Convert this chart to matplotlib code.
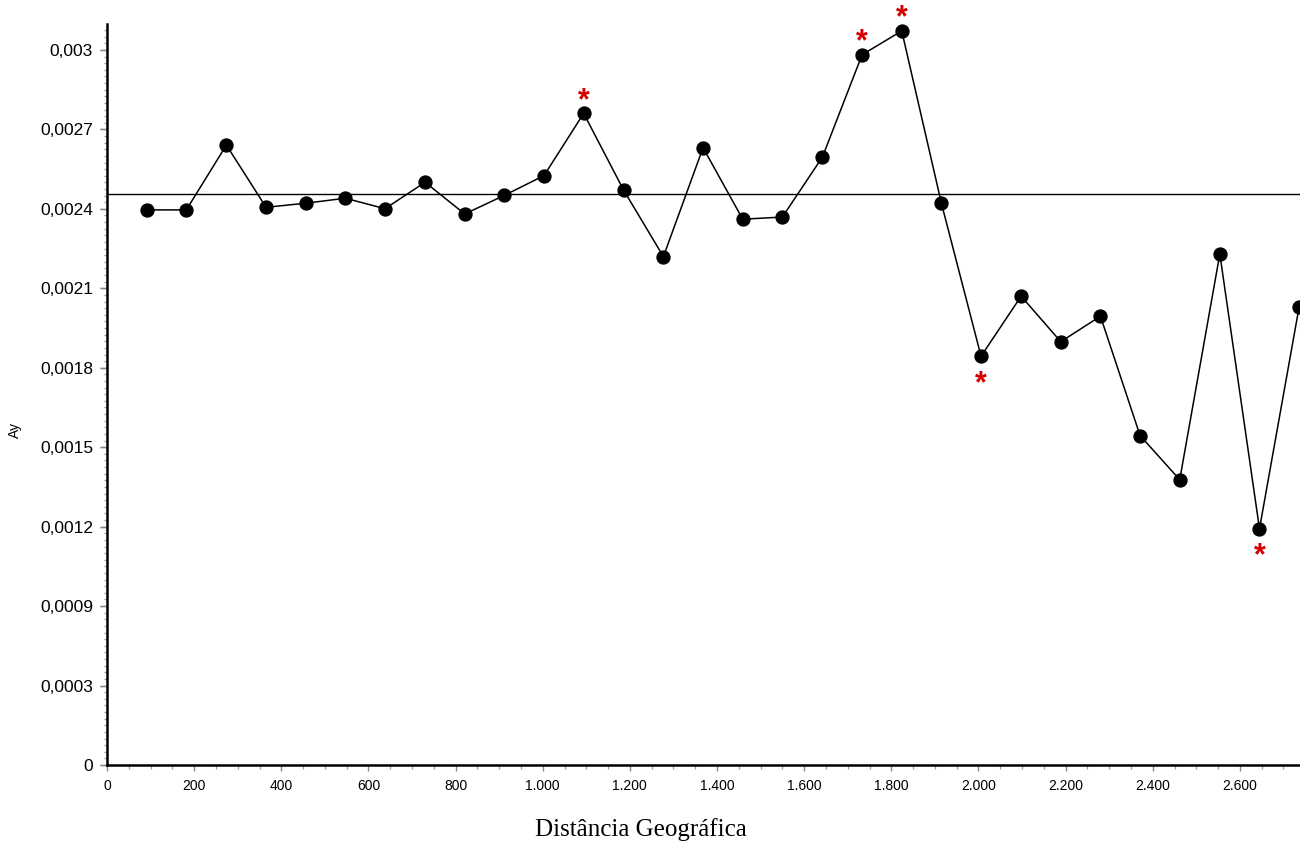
import matplotlib.pyplot as plt
import numpy as np
from matplotlib.ticker import AutoMinorLocator, FixedLocator, FuncFormatter

# distance classes (km) and Ay values
distances = [91, 182, 274, 365, 456, 547, 638, 730, 821, 912,
             1003, 1094, 1186, 1277, 1368, 1459, 1550, 1642, 1733, 1824,
             1915, 2006, 2098, 2189, 2280, 2371, 2462, 2554, 2645, 2736]
ay_values = [0.002329, 0.002329, 0.002601, 0.002340, 0.002357, 0.002378,
             0.002334, 0.002445, 0.002312, 0.002390, 0.002473, 0.002734,
             0.002411, 0.002133, 0.002590, 0.002290, 0.002299, 0.002551,
             0.002980, 0.003080, 0.002357, 0.001715, 0.001967, 0.001776,
             0.001883, 0.001382, 0.001197, 0.002144, 0.000991, 0.001922]
mean_ay = 0.002395

# significant classes (index into the arrays), above or below the point
signif_up = [11, 18, 19]
signif_down = [21, 28]

y_ticks = np.linspace(0, 0.003, 10)
y_labels = ["0", "0,0003", "0,0009", "0,0012", "0,0015", "0,0018",
            "0,0021", "0,0024", "0,0027", "0,003"]
x_ticks = np.arange(0, 2800, 200)

fig = plt.figure(figsize=(13, 8.46), dpi=100)
ax = fig.add_axes([107 / 1300, 1 - 765 / 846, 1 - 107 / 1300, (765 - 24) / 846])

ax.axhline(mean_ay, color="black", lw=1.0, zorder=1)
ax.plot(distances, ay_values, color="black", lw=1.1, marker="o",
        markersize=9.3, markerfacecolor="black", zorder=3)

star_style = {"color": "#d40000", "fontsize": 22, "fontweight": "bold",
              "family": "Liberation Sans", "ha": "center", "va": "center"}
for i in signif_up:
    ax.annotate("*", (distances[i], ay_values[i]), xytext=(0, 9),
                textcoords="offset points", **star_style)
for i in signif_down:
    ax.annotate("*", (distances[i], ay_values[i]), xytext=(0, -20),
                textcoords="offset points", **star_style)

ax.set_xlim(0, 2738)
ax.set_ylim(0, 0.003109)

for side in ("top", "right"):
    ax.spines[side].set_visible(False)
for side in ("left", "bottom"):
    ax.spines[side].set_linewidth(1.8)

ax.set_yticks(y_ticks)
ax.set_yticklabels(y_labels, family="Liberation Sans", fontsize=12.5)
ax.yaxis.set_minor_locator(AutoMinorLocator(12))
ax.tick_params(axis="y", which="major", length=5, width=1, color="#888888", pad=5)
ax.tick_params(axis="y", which="minor", length=2.5, width=0.9, color="#999999")

# medium ticks between the labelled ones
sec = ax.secondary_yaxis("left")
sec.yaxis.set_major_locator(FixedLocator(np.arange(0, 0.0031, 0.001 / 3)))
sec.yaxis.set_major_formatter(FuncFormatter(lambda v, p: ""))
sec.tick_params(length=5, width=1, color="#888888")
sec.spines["left"].set_visible(False)

ax.set_xticks(x_ticks)
ax.set_xticklabels([f"{t:,}".replace(",", ".") for t in x_ticks],
                   family="Liberation Sans", fontsize=10)
ax.xaxis.set_minor_locator(AutoMinorLocator(4))
ax.tick_params(axis="x", which="major", length=4, width=1, color="#888888", pad=6)
ax.tick_params(axis="x", which="minor", length=3, width=0.9, color="#999999")

fig.text(15 / 1300, 1 - 430 / 846, "Ay", rotation=90, ha="center", va="center",
         family="Liberation Sans", fontsize=10)
fig.text(641 / 1300, 1 - 830 / 846, "Distância Geográfica", ha="center",
         va="center", family="Liberation Serif", fontsize=18)

fig.savefig("out.png", dpi=100)
